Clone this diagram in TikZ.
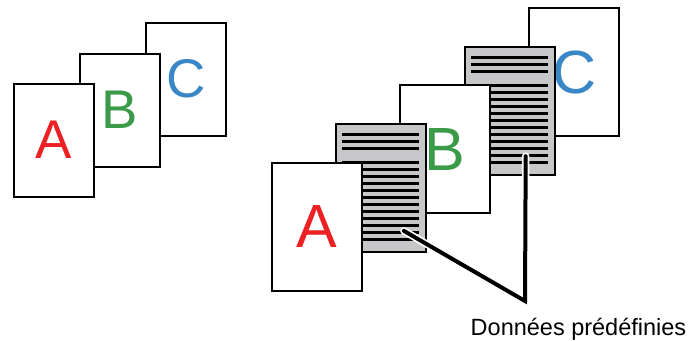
\documentclass[tikz,border=0pt]{standalone}
\usepackage{fontspec}
\setmainfont{Liberation Sans}
\definecolor{lred}{RGB}{237,32,36}
\definecolor{lgreen}{RGB}{58,154,72}
\definecolor{lblue}{RGB}{58,135,200}
\definecolor{pgray}{RGB}{199,199,201}
\tikzset{
  smallpage/.style={draw=black, fill=white, line width=2pt, minimum width=80pt, minimum height=113pt, inner sep=0pt, font=\fontsize{54.5}{60}\selectfont},
  bigpage/.style={draw=black, fill=white, line width=2pt, minimum width=90pt, minimum height=128pt, inner sep=0pt, font=\fontsize{61}{66}\selectfont},
  datapage/.style={bigpage, fill=pgray},
  dataline/.style={line width=3pt, black},
  leaderhalo/.style={white, line width=7.5pt, line cap=round, line join=miter},
  leader/.style={black, line width=4pt, line cap=round, line join=miter},
  lbl/.style={font=\fontsize{23.5}{28}\selectfont, inner sep=0pt}
}
\begin{document}
\begin{tikzpicture}[x=1pt, y=-1pt]
\useasboundingbox (0,0) rectangle (690,340);
% left group
\node[smallpage, text=lblue] (lc) at (186,79) {C};
\node[smallpage, text=lgreen] (lb) at (119.5,110) {B};
\node[smallpage, text=lred] (la) at (53.5,140) {A};
% right group
\node[bigpage, text=lblue] (rc) at (574.1,72.1) {C};
\node[datapage] (g2) at (509.7,110.7) {};
\begin{scope}[shift={(g2.center)}]
  \foreach \yy in {-53,-46,-39} \draw[dataline] (-39,\yy) -- (38,\yy);
  \foreach \k in {0,...,11} \draw[dataline] (-39,-25+7*\k) -- (38,-25+7*\k);
  \coordinate (s2) at (16,45.5);
\end{scope}
\node[bigpage, text=lgreen] (rb) at (445.3,149.3) {B};
\node[datapage] (g1) at (380.9,187.9) {};
\begin{scope}[shift={(g1.center)}]
  \foreach \yy in {-53,-46,-39} \draw[dataline] (-39,\yy) -- (38,\yy);
  \foreach \k in {0,...,11} \draw[dataline] (-39,-25+7*\k) -- (38,-25+7*\k);
  \coordinate (s1) at (23,43);
\end{scope}
\node[bigpage, text=lred] (ra) at (316.5,226.5) {A};
% label and leaders
\node[lbl, anchor=base] (label) at (578.5,335) {Données prédéfinies};
\coordinate (corner) at (525,301);
\draw[leaderhalo] (s1) -- (corner) -- (s2);
\draw[leader] (s1) -- (corner) -- (s2);
\end{tikzpicture}
\end{document}
